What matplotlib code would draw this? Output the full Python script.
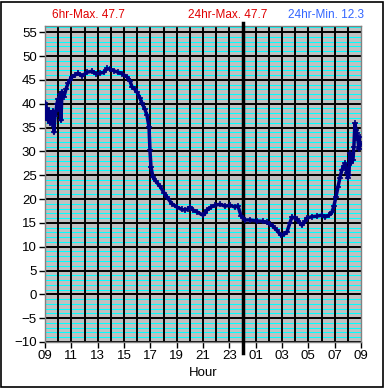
import matplotlib
matplotlib.use("Agg")
import matplotlib.pyplot as plt
from matplotlib.patches import Rectangle

plt.rcParams['font.family'] = ['Liberation Sans', 'DejaVu Sans']

# hours since 09:00
hours = [0.0, 0.08, 0.15, 0.23, 0.30, 0.38, 0.46, 0.53, 0.61, 0.68, 0.76, 0.84, 0.91,
         0.99, 1.06, 1.14, 1.21, 1.29, 1.44, 1.59, 1.75, 1.90, 2.05, 2.28, 2.51, 2.81,
         3.19, 3.57, 3.87, 4.18, 4.48, 4.71, 4.94, 5.24, 5.54, 5.85, 6.23, 6.45, 6.61,
         6.83, 6.99, 7.21, 7.37, 7.59, 7.74, 7.90, 7.97, 8.05, 8.20, 8.43, 8.73, 9.04,
         9.26, 9.64, 10.02, 10.40, 10.63, 10.86, 11.01, 11.24, 11.54, 12.0, 12.15, 12.30,
         12.60, 12.91, 13.29, 13.67, 14.05, 14.43, 14.65, 14.88, 15.19, 15.57, 16.1,
         16.55, 16.86, 17.08, 17.31, 17.62, 17.92, 18.15, 18.38, 18.60, 18.75, 18.98,
         19.13, 19.36, 19.51, 19.74, 19.89, 20.27, 20.65, 21.03, 21.26, 21.56, 21.79,
         21.94, 22.1, 22.25, 22.4, 22.55, 22.7, 22.78, 22.93, 23.0, 23.08, 23.16, 23.23,
         23.39, 23.46, 23.54, 23.62, 23.69, 23.77, 23.84, 23.92, 24.0]
temps = [40.1, 37.0, 39.0, 36.5, 38.5, 36.0, 38.0, 35.8, 38.5, 34.0, 37.5, 38.5, 40.0,
         41.0, 39.0, 42.0, 36.5, 42.5, 41.5, 43.0, 44.3, 45.0, 45.6, 46.0, 46.4, 45.8,
         46.6, 46.8, 46.3, 46.4, 46.6, 47.4, 47.2, 46.9, 46.6, 46.3, 45.6, 44.8, 43.5,
         43.0, 42.4, 41.2, 40.1, 38.8, 37.6, 35.1, 30.3, 26.7, 24.6, 23.7, 22.7, 21.3,
         20.4, 19.0, 18.3, 17.8, 17.7, 17.9, 18.3, 17.7, 17.3, 16.6, 17.0, 17.7,
         18.3, 18.7, 18.9, 18.5, 18.7, 18.3, 18.6, 16.5, 15.6, 15.6, 15.4,
         15.3, 15.1, 14.7, 14.3, 13.4, 12.4, 12.6, 13.1, 15.0, 16.2, 16.0,
         15.8, 15.0, 14.5, 15.3, 16.0, 16.3, 16.4, 16.6, 16.2, 16.6, 17.2,
         18.5, 20.5, 22.5, 24.5, 26.1, 27.0, 27.5, 25.5, 24.4, 25.0, 29.6, 27.5,
         28.2, 31.0, 35.9, 34.5, 33.8, 32.4, 30.5, 33.0, 31.5]

xtick_labels = ["09", "11", "13", "15", "17", "19", "21", "23", "01", "03", "05", "07", "09"]
ytick_values = list(range(-10, 56, 5))
header_texts = ["6hr-Max. 47.7", "24hr-Max. 47.7", "24hr-Min. 12.3"]

fig = plt.figure(figsize=(3.85, 3.88), dpi=100)
fig.patch.set_facecolor('white')
ax = fig.add_axes([45/385, 46/388, 316/385, 316/388])
ax.set_facecolor('#C0C0C0')
ax.set_xlim(0, 24)
ax.set_ylim(-10, 56.3)

# minor cyan lines every 1 unit
for v in range(-10, 57):
    if v % 5 != 0:
        ax.axhline(v, color='#00FFFF', lw=0.75, zorder=1)
for v in ytick_values:
    ax.axhline(v, color='black', lw=1.4, zorder=2)
for h in range(1, 24):
    ax.axvline(h, color='black', lw=1.4, zorder=2)

# midnight line extending past the axes
ax.plot([15, 15], [-0.035, 1.008], transform=ax.get_xaxis_transform(),
        color='black', lw=2.5, clip_on=False, zorder=3)

ax.plot(hours, temps, color='#000080', lw=2.5, marker='+', ms=4, mew=1.2, zorder=4)

ax.set_xticks(range(0, 25, 2))
ax.set_xticklabels(xtick_labels)
ax.set_yticks(ytick_values)
ax.tick_params(axis='both', direction='out', length=4, width=1, color='black',
               labelsize=9.5, pad=2)
for s in ax.spines.values():
    s.set_color('#808080')
    s.set_linewidth(1)
ax.set_xlabel("Hour", fontsize=9.5, labelpad=3)

fig.text(88/385, 1 - 15.5/388, header_texts[0], color='#E00000', fontsize=8.5, ha='center', va='center')
fig.text(228/385, 1 - 15.5/388, header_texts[1], color='#E00000', fontsize=8.5, ha='center', va='center')
fig.text(326/385, 1 - 15.5/388, header_texts[2], color='#3366FF', fontsize=8.5, ha='center', va='center')

fig.patches.append(Rectangle((1/385, 1/388), 382/385, 385/388, transform=fig.transFigure,
                             fill=False, edgecolor='black', lw=1.2))

fig.savefig('out.png', dpi=100)
